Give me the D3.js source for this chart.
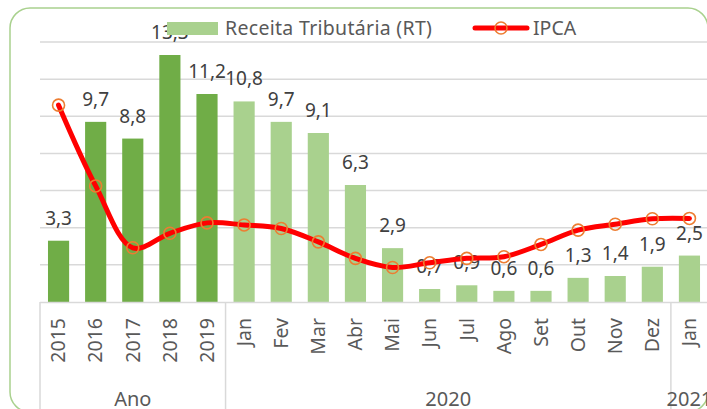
<!DOCTYPE html>
<html>
<head>
<meta charset="utf-8">
<script src="https://cdn.jsdelivr.net/npm/d3@7"></script>
<style>
  html, body { margin: 0; padding: 0; background: #fff; overflow: hidden; }
  svg { display: block; font-family: 'Noto Sans', 'Open Sans', sans-serif; }
</style>
</head>
<body>
<svg id="chart" width="707" height="409"></svg>
<script>
// Categories on the axis (Jan repeats, so bars are keyed by index)
const categories = ['2015', '2016', '2017', '2018', '2019',
  'Jan', 'Fev', 'Mar', 'Abr', 'Mai', 'Jun', 'Jul', 'Ago', 'Set', 'Out', 'Nov', 'Dez', 'Jan'];
// Second-level axis groups and how many categories each spans
const groupNames = ['Ano', '2020', '2021'];
const groupSizes = [5, 12, 1];
// Receita Tributária (RT), bars
const rt = [3.3, 9.7, 8.8, 13.3, 11.2, 10.8, 9.7, 9.1, 6.3, 2.9, 0.7, 0.9, 0.6, 0.6, 1.3, 1.4, 1.9, 2.5];
// IPCA, line
const ipca = [10.6, 6.25, 2.92, 3.7, 4.26, 4.15, 3.96, 3.24, 2.35, 1.86, 2.11, 2.35, 2.44, 3.1, 3.87, 4.19, 4.48, 4.5];
// Gridline values
const gridTicks = [2, 4, 6, 8, 10, 12, 14];

const svg = d3.select('#chart');
const textColor = '#595959';
const darkGreen = '#70ad47';
const lightGreen = '#a9d18e';

// Outer rounded frame
svg.append('rect')
  .attr('x', 10).attr('y', 8)
  .attr('width', 698).attr('height', 404)
  .attr('rx', 20)
  .attr('fill', 'none')
  .attr('stroke', lightGreen)
  .attr('stroke-width', 1.5);

const x = d3.scaleBand()
  .domain(d3.range(categories.length))
  .range([40, 708])
  .paddingInner(0.43)
  .paddingOuter(0.215);

const y = d3.scaleLinear().domain([0, 14]).range([302, 42]);

// Gridlines
svg.append('g')
  .selectAll('line')
  .data(gridTicks)
  .join('line')
  .attr('x1', 40).attr('x2', 707)
  .attr('y1', d => y(d)).attr('y2', d => y(d))
  .attr('stroke', '#d9d9d9')
  .attr('stroke-width', 1.5);

// Bars
svg.append('g')
  .selectAll('rect')
  .data(rt)
  .join('rect')
  .attr('x', (d, i) => x(i))
  .attr('width', x.bandwidth())
  .attr('y', d => y(d))
  .attr('height', d => y(0) - y(d))
  .attr('fill', (d, i) => (i < groupSizes[0] ? darkGreen : lightGreen));

// Bar data labels
svg.append('g')
  .selectAll('text')
  .data(rt)
  .join('text')
  .attr('x', (d, i) => x(i) + x.bandwidth() / 2)
  .attr('y', d => y(d) - 16)
  .attr('text-anchor', 'middle')
  .attr('font-size', 19)
  .attr('fill', '#404040')
  .text(d => d3.format('.1f')(d).replace('.', ','));

// Category axis line
svg.append('line')
  .attr('x1', 40).attr('x2', 707)
  .attr('y1', y(0) + 0.5).attr('y2', y(0) + 0.5)
  .attr('stroke', '#d9d9d9')
  .attr('stroke-width', 1.5);

// Group dividers, running down from the axis
const bounds = [0];
groupSizes.forEach((n, i) => bounds.push(bounds[i] + n));
const step = x.step();
const edge = i => 40 + i * step;
svg.append('g')
  .selectAll('line')
  .data(bounds.slice(0, -1))
  .join('line')
  .attr('x1', d => edge(d)).attr('x2', d => edge(d))
  .attr('y1', y(0)).attr('y2', 409)
  .attr('stroke', '#d9d9d9')
  .attr('stroke-width', 1.5);

// Rotated category labels
svg.append('g')
  .selectAll('text')
  .data(categories)
  .join('text')
  .attr('transform', (d, i) => `translate(${x(i) + x.bandwidth() / 2},318) rotate(-90)`)
  .attr('text-anchor', 'end')
  .attr('dy', '0.35em')
  .attr('font-size', 19.5)
  .attr('fill', textColor)
  .text(d => d);

// Group labels (cut by the bottom edge, as in the source)
svg.append('g')
  .selectAll('text')
  .data(groupNames)
  .join('text')
  .attr('x', (d, i) => (edge(bounds[i]) + edge(bounds[i + 1])) / 2)
  .attr('y', 406)
  .attr('text-anchor', 'middle')
  .attr('font-size', 20)
  .attr('fill', textColor)
  .text(d => d);

// IPCA line
const line = d3.line()
  .x((d, i) => x(i) + x.bandwidth() / 2)
  .y(d => y(d))
  .curve(d3.curveCatmullRom.alpha(0.5));

svg.append('path')
  .datum(ipca)
  .attr('d', line)
  .attr('fill', 'none')
  .attr('stroke', '#ff0000')
  .attr('stroke-width', 5)
  .attr('stroke-linecap', 'round')
  .attr('stroke-linejoin', 'round');

svg.append('g')
  .selectAll('circle')
  .data(ipca)
  .join('circle')
  .attr('cx', (d, i) => x(i) + x.bandwidth() / 2)
  .attr('cy', d => y(d))
  .attr('r', 6)
  .attr('fill', 'none')
  .attr('stroke', '#ed7d31')
  .attr('stroke-width', 1.6);

// Legend
const legend = svg.append('g');
legend.append('rect')
  .attr('x', 167).attr('y', 22)
  .attr('width', 51).attr('height', 13)
  .attr('fill', lightGreen);
legend.append('text')
  .attr('x', 225).attr('y', 35)
  .attr('font-size', 19.5)
  .attr('letter-spacing', 0.3)
  .attr('fill', textColor)
  .text('Receita Tributária (RT)');
legend.append('line')
  .attr('x1', 475).attr('x2', 527)
  .attr('y1', 28).attr('y2', 28)
  .attr('stroke', '#ff0000')
  .attr('stroke-width', 5)
  .attr('stroke-linecap', 'round');
legend.append('circle')
  .attr('cx', 501).attr('cy', 28).attr('r', 6)
  .attr('fill', 'none')
  .attr('stroke', '#ed7d31')
  .attr('stroke-width', 1.6);
legend.append('text')
  .attr('x', 533).attr('y', 35)
  .attr('font-size', 19.5)
  .attr('fill', textColor)
  .text('IPCA');
</script>
</body>
</html>
